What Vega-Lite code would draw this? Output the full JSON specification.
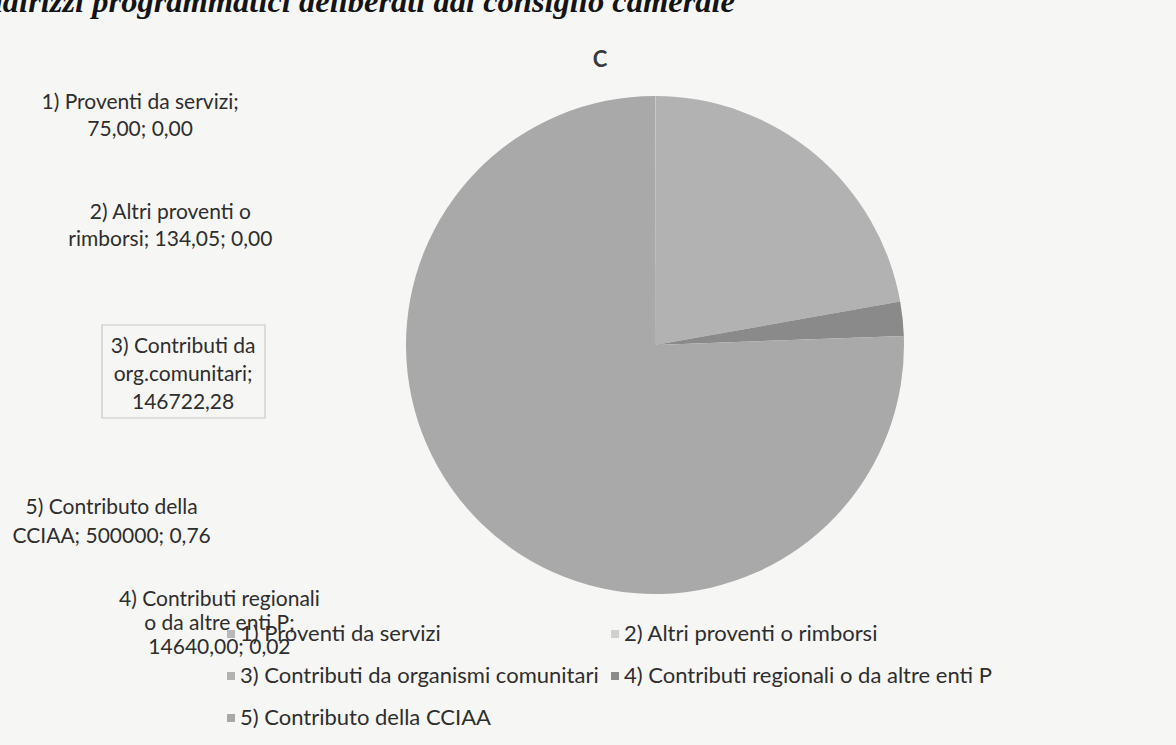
{
  "$schema": "https://vega.github.io/schema/vega-lite/v6.json",
  "autosize": {"type": "none"},
  "width": 1042,
  "height": 690,
  "padding": {"left": 134, "top": 0, "right": 0, "bottom": 55},
  "background": "#f6f6f4",
  "title": {"text": "C", "anchor": "middle", "frame": "group", "dx": -55, "offset": -86, "fontSize": 22, "fontWeight": "bold", "font": "Lato", "color": "#3a3a3a"},
  "data": {"values": [
    {"cat": "1) Proventi da servizi", "value": 75, "label": "1) Proventi da servizi;\n75,00; 0,00"},
    {"cat": "2) Altri proventi o rimborsi", "value": 134.05, "label": "2) Altri proventi o\nrimborsi; 134,05; 0,00"},
    {"cat": "3) Contributi da organismi comunitari", "value": 146722.28, "label": "3) Contributi da\norg.comunitari;\n146722,28"},
    {"cat": "4) Contributi regionali o da altre enti P", "value": 14640, "label": "4) Contributi regionali\no da altre enti P;\n14640,00; 0,02"},
    {"cat": "5) Contributo della CCIAA", "value": 500000, "label": "5) Contributo della\nCCIAA; 500000; 0,76"}
  ]},
  "layer": [
    {
      "mark": {"type": "arc", "outerRadius": 249, "stroke": null},
      "encoding": {
        "theta": {"field": "value", "type": "quantitative", "stack": true},
        "order": {"field": "cat", "type": "ordinal"},
        "color": {"field": "cat", "type": "nominal",
          "scale": {"range": ["#b8b8b8", "#d0d0d0", "#b2b2b2", "#8a8a8a", "#a9a9a9"]},
          "legend": {"orient": "none", "legendX": 86, "legendY": 623, "columns": 2, "direction": "horizontal", "title": null,
            "symbolType": "square", "symbolSize": 64, "symbolStrokeWidth": 0, "labelFont": "Lato", "labelFontSize": 22,
            "labelColor": "#2e2e2e", "labelOffset": -2, "labelLimit": 600, "columnPadding": 5, "rowPadding": 20, "padding": 0}}
      }
    },
    {
      "mark": {"type": "point", "shape": "M-553,-20H-390V73H-553Z", "size": 4, "filled": false, "stroke": "#c8c8c8", "strokeWidth": 1.2, "opacity": 1},
      "transform": [{"filter": "datum.cat === '3) Contributi da organismi comunitari'"}],
      "encoding": {}
    },
    {
      "mark": {"type": "text", "radius": 280, "dx": -515, "dy": 38, "align": "center", "baseline": "middle", "font": "Lato", "fontSize": 21, "lineHeight": 27, "lineBreak": "\n", "color": "#2e2e2e"},
      "encoding": {
        "theta": {"field": "value", "type": "quantitative", "stack": true},
        "order": {"field": "cat", "type": "ordinal"},
        "text": {"condition": {"test": "datum.cat === '1) Proventi da servizi'", "field": "label"}, "value": ""}
      }
    },
    {
      "mark": {"type": "text", "radius": 280, "dx": -485, "dy": 148, "align": "center", "baseline": "middle", "font": "Lato", "fontSize": 21, "lineHeight": 27, "lineBreak": "\n", "color": "#2e2e2e"},
      "encoding": {
        "theta": {"field": "value", "type": "quantitative", "stack": true},
        "order": {"field": "cat", "type": "ordinal"},
        "text": {"condition": {"test": "datum.cat === '2) Altri proventi o rimborsi'", "field": "label"}, "value": ""}
      }
    },
    {
      "mark": {"type": "text", "radius": 280, "dx": -652, "dy": 216, "align": "center", "baseline": "middle", "font": "Lato", "fontSize": 21, "lineHeight": 28, "lineBreak": "\n", "color": "#2e2e2e"},
      "encoding": {
        "theta": {"field": "value", "type": "quantitative", "stack": true},
        "order": {"field": "cat", "type": "ordinal"},
        "text": {"condition": {"test": "datum.cat === '3) Contributi da organismi comunitari'", "field": "label"}, "value": ""}
      }
    },
    {
      "mark": {"type": "text", "radius": 280, "dx": -714, "dy": 285, "align": "center", "baseline": "middle", "font": "Lato", "fontSize": 21, "lineHeight": 24, "lineBreak": "\n", "color": "#2e2e2e"},
      "encoding": {
        "theta": {"field": "value", "type": "quantitative", "stack": true},
        "order": {"field": "cat", "type": "ordinal"},
        "text": {"condition": {"test": "datum.cat === '4) Contributi regionali o da altre enti P'", "field": "label"}, "value": ""}
      }
    },
    {
      "mark": {"type": "text", "radius": 280, "dx": -349, "dy": -38.5, "align": "center", "baseline": "middle", "font": "Lato", "fontSize": 21, "lineHeight": 29, "lineBreak": "\n", "color": "#2e2e2e"},
      "encoding": {
        "theta": {"field": "value", "type": "quantitative", "stack": true},
        "order": {"field": "cat", "type": "ordinal"},
        "text": {"condition": {"test": "datum.cat === '5) Contributo della CCIAA'", "field": "label"}, "value": ""}
      }
    },
    {
      "data": {"values": [{"t": "indirizzi programmatici deliberati dal consiglio camerale"}]},
      "mark": {"type": "text", "dx": 80, "dy": -333, "align": "right", "baseline": "alphabetic", "font": "Liberation Serif", "fontStyle": "italic", "fontWeight": "bold", "fontSize": 32.5, "color": "#141414"},
      "encoding": {"text": {"field": "t"}}
    }
  ],
  "config": {"view": {"stroke": null}}
}
